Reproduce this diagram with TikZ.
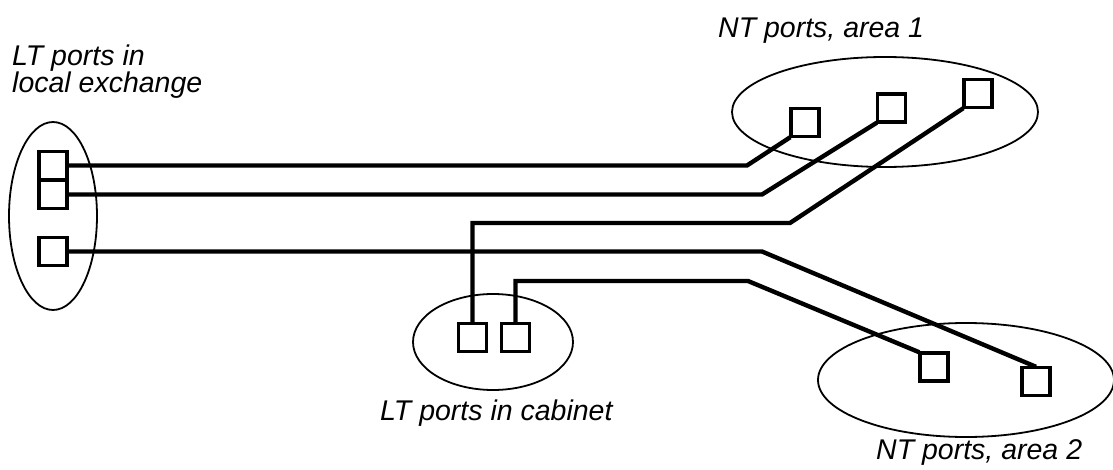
\documentclass[tikz,border=0pt]{standalone}
\usepackage{fontspec}
\setmainfont{Liberation Sans}
\usetikzlibrary{shapes.geometric}
\begin{document}
\begin{tikzpicture}[x=1pt,y=-1pt,
  port/.style={draw,line width=2.4pt,fill=white,rectangle,minimum size=27pt,inner sep=0pt},
  area/.style={draw,line width=1.8pt},
  wire/.style={line width=4.4pt,line join=miter},
  lbl/.style={font=\fontsize{28.5}{27}\selectfont\itshape,inner sep=0pt,anchor=base west}]
\useasboundingbox (0,0) rectangle (1113,470);
% areas
\draw[area] (53,216) ellipse [x radius=44, y radius=94];
\draw[area] (885,112) ellipse [x radius=153, y radius=55];
\draw[area] (493,342) ellipse [x radius=80, y radius=48];
\draw[area] (966,380) ellipse [x radius=148, y radius=57];
% ports
\node[port] (l1) at (53,165.5) {};
\node[port] (l2) at (53,194.5) {};
\node[port] (l3) at (53,251.5) {};
\node[port] (n1) at (805,122.5) {};
\node[port] (n2) at (891.5,108) {};
\node[port] (n3) at (978,93.5) {};
\node[port] (c1) at (472.5,337.5) {};
\node[port] (c2) at (515.5,337.5) {};
\node[port] (m1) at (934,367) {};
\node[port] (m2) at (1036,381.5) {};
% corners
\coordinate (a1) at (747,165.5);
\coordinate (a2) at (762,194.5);
\coordinate (a3) at (790,223);
\coordinate (a4) at (472.5,223);
\coordinate (b1) at (762,251.5);
\coordinate (b2) at (515.5,281);
\coordinate (b3) at (748,281);
% wires
\draw[wire] (l1.east) -- (a1) -- (n1.south west);
\draw[wire] (l2.east) -- (a2) -- (n2.south west);
\draw[wire] (n3.south west) -- (a3) -- (a4) -- (c1.north);
\draw[wire] (l3.east) -- (b1) -- (m2.north);
\draw[wire] (c2.north) -- (b2) -- (b3) -- (m1.north west);
% redraw port outlines on top
\foreach \p in {l1,l2,l3,n1,n2,n3,c1,c2,m1,m2}
  \draw[line width=2.4pt] (\p.south west) rectangle (\p.north east);
% labels
\node[lbl] (t1a) at (12,66) {LT ports in};
\node[lbl] (t1b) at (12,93) {local exchange};
\node[lbl] (t2) at (718,38) {NT ports, area 1};
\node[lbl] (t3) at (380,420) {LT ports in cabinet};
\node[lbl] (t4) at (876,459) {NT ports, area 2};
\end{tikzpicture}
\end{document}
